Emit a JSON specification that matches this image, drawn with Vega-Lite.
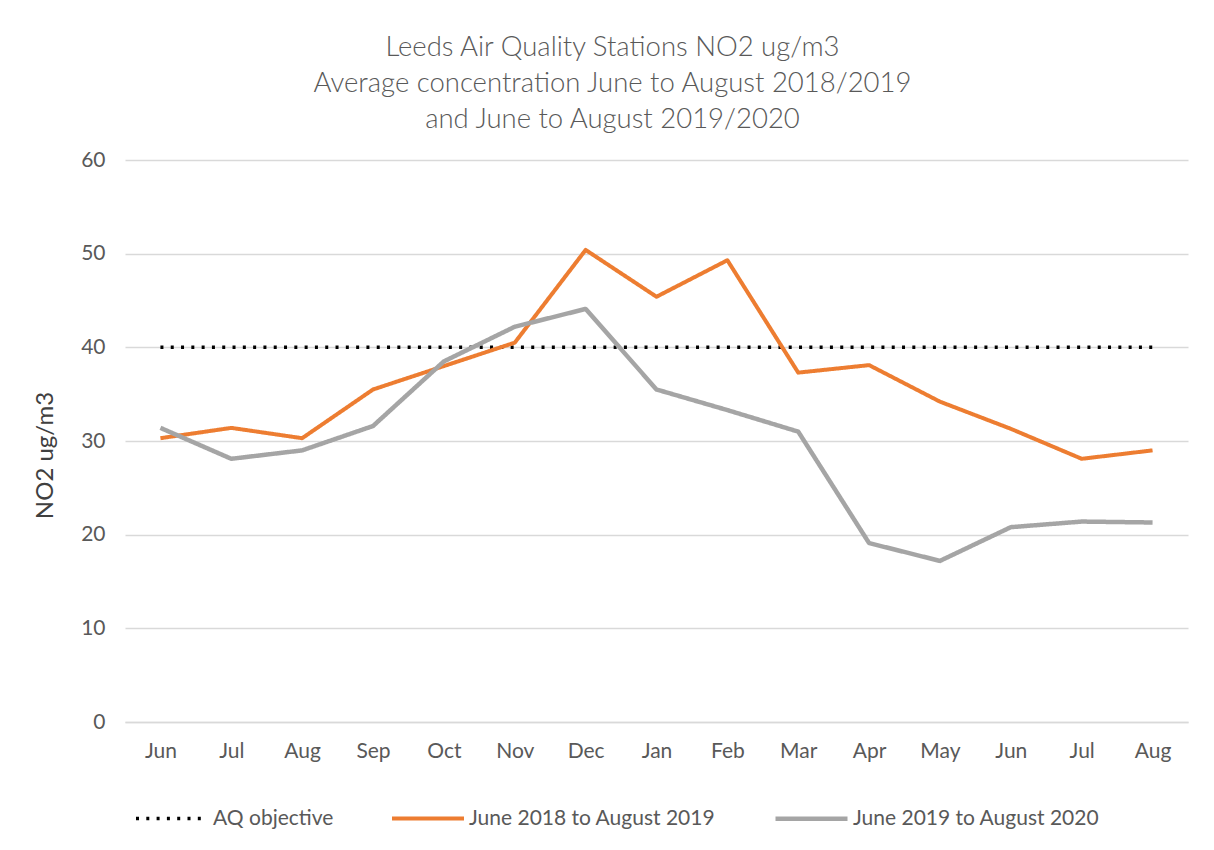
{
  "$schema": "https://vega.github.io/schema/vega-lite/v6.json",
  "width": 1063,
  "height": 562,
  "autosize": {"type": "none"},
  "padding": {"left": 125, "top": 160, "right": 26, "bottom": 128},
  "background": "white",
  "config": {
    "font": "Lato",
    "view": {"stroke": null},
    "axis": {"labelFont": "Lato", "titleFont": "Lato"},
    "legend": {"labelFont": "Lato"}
  },
  "title": {
    "text": ["Leeds Air Quality Stations NO2 ug/m3", "Average concentration June to August 2018/2019", "and June to August 2019/2020"],
    "font": "Lato",
    "fontSize": 27.5,
    "fontWeight": 300,
    "color": "#595959",
    "lineHeight": 36,
    "anchor": "middle",
    "dx": -44,
    "offset": 16
  },
  "data": {
    "values": [
      {"month": "Jun-1", "series": "AQ objective", "no2": 40},
      {"month": "Jul-1", "series": "AQ objective", "no2": 40},
      {"month": "Aug-1", "series": "AQ objective", "no2": 40},
      {"month": "Sep-1", "series": "AQ objective", "no2": 40},
      {"month": "Oct-1", "series": "AQ objective", "no2": 40},
      {"month": "Nov-1", "series": "AQ objective", "no2": 40},
      {"month": "Dec-1", "series": "AQ objective", "no2": 40},
      {"month": "Jan-2", "series": "AQ objective", "no2": 40},
      {"month": "Feb-2", "series": "AQ objective", "no2": 40},
      {"month": "Mar-2", "series": "AQ objective", "no2": 40},
      {"month": "Apr-2", "series": "AQ objective", "no2": 40},
      {"month": "May-2", "series": "AQ objective", "no2": 40},
      {"month": "Jun-2", "series": "AQ objective", "no2": 40},
      {"month": "Jul-2", "series": "AQ objective", "no2": 40},
      {"month": "Aug-2", "series": "AQ objective", "no2": 40},
      {"month": "Jun-1", "series": "June 2018 to August 2019", "no2": 30.3},
      {"month": "Jul-1", "series": "June 2018 to August 2019", "no2": 31.4},
      {"month": "Aug-1", "series": "June 2018 to August 2019", "no2": 30.3},
      {"month": "Sep-1", "series": "June 2018 to August 2019", "no2": 35.5},
      {"month": "Oct-1", "series": "June 2018 to August 2019", "no2": 38.0},
      {"month": "Nov-1", "series": "June 2018 to August 2019", "no2": 40.5},
      {"month": "Dec-1", "series": "June 2018 to August 2019", "no2": 50.4},
      {"month": "Jan-2", "series": "June 2018 to August 2019", "no2": 45.4},
      {"month": "Feb-2", "series": "June 2018 to August 2019", "no2": 49.3},
      {"month": "Mar-2", "series": "June 2018 to August 2019", "no2": 37.3},
      {"month": "Apr-2", "series": "June 2018 to August 2019", "no2": 38.1},
      {"month": "May-2", "series": "June 2018 to August 2019", "no2": 34.2},
      {"month": "Jun-2", "series": "June 2018 to August 2019", "no2": 31.3},
      {"month": "Jul-2", "series": "June 2018 to August 2019", "no2": 28.1},
      {"month": "Aug-2", "series": "June 2018 to August 2019", "no2": 29.0},
      {"month": "Jun-1", "series": "June 2019 to August 2020", "no2": 31.4},
      {"month": "Jul-1", "series": "June 2019 to August 2020", "no2": 28.1},
      {"month": "Aug-1", "series": "June 2019 to August 2020", "no2": 29.0},
      {"month": "Sep-1", "series": "June 2019 to August 2020", "no2": 31.6},
      {"month": "Oct-1", "series": "June 2019 to August 2020", "no2": 38.5},
      {"month": "Nov-1", "series": "June 2019 to August 2020", "no2": 42.2},
      {"month": "Dec-1", "series": "June 2019 to August 2020", "no2": 44.1},
      {"month": "Jan-2", "series": "June 2019 to August 2020", "no2": 35.5},
      {"month": "Feb-2", "series": "June 2019 to August 2020", "no2": 33.3},
      {"month": "Mar-2", "series": "June 2019 to August 2020", "no2": 31.0},
      {"month": "Apr-2", "series": "June 2019 to August 2020", "no2": 19.1},
      {"month": "May-2", "series": "June 2019 to August 2020", "no2": 17.2},
      {"month": "Jun-2", "series": "June 2019 to August 2020", "no2": 20.8},
      {"month": "Jul-2", "series": "June 2019 to August 2020", "no2": 21.4},
      {"month": "Aug-2", "series": "June 2019 to August 2020", "no2": 21.3}
    ]
  },
  "mark": {"type": "line", "strokeJoin": "round"},
  "encoding": {
    "x": {
      "field": "month",
      "type": "ordinal",
      "sort": null,
      "scale": {"type": "point", "padding": 0.5},
      "axis": {
        "title": null,
        "labelExpr": "split(datum.value, '-')[0]",
        "labelAngle": 0,
        "labelFontSize": 21,
        "labelColor": "#595959",
        "labelPadding": 18,
        "ticks": false,
        "domain": true,
        "domainColor": "#d9d9d9",
        "domainWidth": 1.5,
        "grid": false
      }
    },
    "y": {
      "field": "no2",
      "type": "quantitative",
      "scale": {"domain": [0, 60]},
      "axis": {
        "title": "NO2 ug/m3",
        "titleFontSize": 24,
        "titleFontWeight": "normal",
        "titleColor": "#404040",
        "titleY": 295,
        "titleX": -68,
        "titleBaseline": "bottom",
        "values": [0, 10, 20, 30, 40, 50, 60],
        "labelFontSize": 21,
        "labelColor": "#595959",
        "labelPadding": 20,
        "ticks": false,
        "domain": false,
        "grid": true,
        "gridColor": "#d9d9d9",
        "gridWidth": 1.5
      }
    },
    "color": {
      "field": "series",
      "type": "nominal",
      "scale": {
        "domain": ["AQ objective", "June 2018 to August 2019", "June 2019 to August 2020"],
        "range": ["#000000", "#ED7D31", "#A5A5A5"]
      },
      "legend": {
        "title": null,
        "orient": "none",
        "legendX": 9,
        "legendY": 620,
        "direction": "horizontal",
        "symbolType": "stroke",
        "symbolSize": 5184,
        "labelFontSize": 21,
        "labelLimit": 500,
        "labelColor": "#595959",
        "labelOffset": 3,
        "columnPadding": 50
      }
    },
    "strokeDash": {
      "field": "series",
      "type": "nominal",
      "scale": {
        "domain": ["AQ objective", "June 2018 to August 2019", "June 2019 to August 2020"],
        "range": [[3, 7.3], [1, 0], [1, 0]]
      },
      "legend": {
        "title": null,
        "orient": "none",
        "legendX": 9,
        "legendY": 620,
        "direction": "horizontal",
        "symbolType": "stroke",
        "symbolSize": 5184,
        "labelFontSize": 21,
        "labelLimit": 500,
        "labelColor": "#595959",
        "labelOffset": 3,
        "columnPadding": 50
      }
    },
    "strokeWidth": {
      "field": "series",
      "type": "nominal",
      "scale": {
        "domain": ["AQ objective", "June 2018 to August 2019", "June 2019 to August 2020"],
        "range": [3.5, 4.5, 4.5]
      },
      "legend": {
        "title": null,
        "orient": "none",
        "legendX": 9,
        "legendY": 620,
        "direction": "horizontal",
        "symbolType": "stroke",
        "symbolSize": 5184,
        "labelFontSize": 21,
        "labelLimit": 500,
        "labelColor": "#595959",
        "labelOffset": 3,
        "columnPadding": 50
      }
    }
  }
}
